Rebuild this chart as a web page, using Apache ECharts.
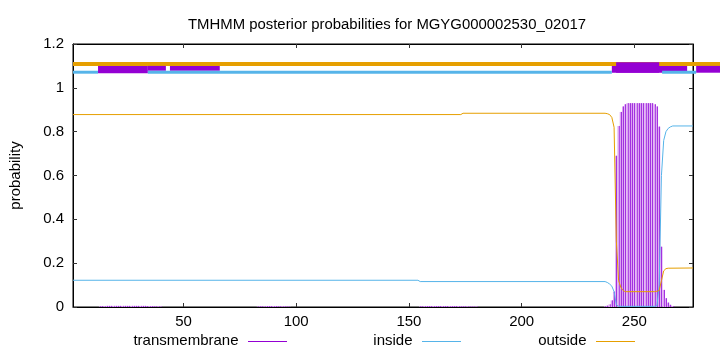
<!DOCTYPE html>
<html><head><meta charset="utf-8">
<script src="https://cdn.jsdelivr.net/npm/echarts@6/dist/echarts.min.js"></script>
<style>html,body{margin:0;padding:0;background:#fff}#c{width:720px;height:352px}</style>
</head><body><div id="c"></div>
<script>
const titleText = 'TMHMM posterior probabilities for MGYG000002530_02017';
const yAxisName = 'probability';
const xTicks = [50, 100, 150, 200, 250];
const seqStart = 1, seqEnd = 276;
const legendNames = ['transmembrane', 'inside', 'outside'];

// outside probability [residue, p]
const outsideProb = [[1,0.878],[173,0.878],[174,0.884],[237,0.884],[238,0.882],[239,0.878],[240,0.865],[241,0.82],[242,0.3],[243,0.12],[244,0.09],[245,0.075],[246,0.07],[259,0.07],[260,0.072],[261,0.075],[262,0.12],[263,0.165],[264,0.175],[265,0.177],[276,0.178]];
// inside probability
const insideProb = [[1,0.122],[154,0.122],[155,0.116],[237,0.116],[238,0.112],[239,0.105],[240,0.095],[241,0.07],[242,0.01],[243,0.003],[259,0.003],[260,0.005],[261,0.1],[262,0.6],[263,0.76],[264,0.8],[265,0.815],[266,0.822],[267,0.826],[276,0.826]];
// transmembrane probability (impulses)
const tmProb = [
 [13,0.003],[14,0.004],[15,0.004],[16,0.005],[17,0.005],[18,0.005],[19,0.005],[20,0.005],[21,0.005],[22,0.005],[23,0.005],[24,0.005],[25,0.005],[26,0.005],[27,0.005],[28,0.005],[29,0.005],[30,0.005],[31,0.005],[32,0.005],[33,0.005],[34,0.004],[35,0.004],[36,0.004],[37,0.003],[38,0.003],[39,0.003],[40,0.002],
 [83,0.002],[84,0.003],[85,0.003],[86,0.003],[87,0.004],[88,0.004],[89,0.004],[90,0.004],[91,0.004],[92,0.003],[93,0.003],[94,0.003],[95,0.003],[96,0.002],[97,0.002],
 [155,0.003],[156,0.003],[157,0.004],[158,0.004],[159,0.004],[160,0.004],[161,0.004],[162,0.004],[163,0.004],[164,0.004],[165,0.004],[166,0.004],[167,0.004],[168,0.004],[169,0.004],[170,0.004],[171,0.004],[172,0.004],[173,0.003],[174,0.003],[175,0.003],[176,0.003],[177,0.002],[178,0.002],[179,0.002],[180,0.002],
 [237,0.003],[238,0.006],[239,0.012],[240,0.03],[241,0.07],[242,0.69],[243,0.826],[244,0.89],[245,0.915],[246,0.925],[247,0.93],[248,0.93],[249,0.93],[250,0.93],[251,0.93],[252,0.93],[253,0.93],[254,0.93],[255,0.93],[256,0.93],[257,0.93],[258,0.93],[259,0.925],[260,0.915],[261,0.823],[262,0.275],[263,0.078],[264,0.04],[265,0.02],[266,0.01],[267,0.004]
];
// top topology bands [xStart, xEnd, yLow, yHigh]
const outsideBand = [[1,288,1.100,1.118]];
const insideBand = [[1,12.1,1.0645,1.078],[34.2,240,1.0645,1.078],[262.3,277.4,1.0645,1.078]];
const tmBand = [[12.1,34.2,1.066,1.100],[34.2,42.2,1.078,1.100],[44.0,66.1,1.078,1.100],[240,273.4,1.069,1.100],[241.9,261,1.069,1.117],[277.4,288,1.069,1.100]];

const C_TM = '#9400d3', C_IN = '#56b4e9', C_OUT = '#e69f00';
const FONT = '"Liberation Sans", Arial, sans-serif';

function bandSeries(data, color, z) {
  return {
    type: 'custom', data: data, clip: false, z: z, silent: true,
    encode: { x: [0, 1], y: [2, 3] },
    renderItem: function (params, api) {
      const p0 = api.coord([api.value(0), api.value(3)]);
      const p1 = api.coord([api.value(1), api.value(2)]);
      return { type: 'rect', shape: { x: p0[0], y: p0[1], width: p1[0] - p0[0], height: p1[1] - p0[1] }, style: { fill: color } };
    }
  };
}

const chart = echarts.init(document.getElementById('c'), null, { renderer: 'canvas' });
const axisCommon = {
  type: 'value', min: seqStart, max: seqEnd,
  axisLine: { show: true, onZero: false, lineStyle: { color: '#000', width: 1 } },
  axisTick: { show: true, inside: true, length: 4, customValues: xTicks, lineStyle: { color: '#333' } },
  splitLine: { show: false }
};
chart.setOption({
  animation: false,
  backgroundColor: '#fff',
  title: { text: titleText, left: 183, top: 12,
    textStyle: { fontFamily: FONT, fontSize: 14.9, fontWeight: 'normal', color: '#000' } },
  grid: { left: 73, right: 27, top: 44, bottom: 45, containLabel: false, outerBoundsMode: 'none',
    show: true, borderColor: '#000', borderWidth: 1 },
  xAxis: [
    Object.assign({}, axisCommon, { position: 'bottom',
      axisLabel: { show: true, customValues: xTicks, margin: 7, fontFamily: FONT, fontSize: 15, color: '#000' } }),
    Object.assign({}, axisCommon, { position: 'top', axisLabel: { show: false } })
  ],
  yAxis: [
    { type: 'value', min: 0, max: 1.2, interval: 0.2, position: 'left',
      name: yAxisName, nameLocation: 'middle', nameGap: 50,
      nameTextStyle: { fontFamily: FONT, fontSize: 15, color: '#000' },
      axisLine: { show: true, onZero: false, lineStyle: { color: '#000' } },
      axisTick: { show: true, inside: true, length: 4, lineStyle: { color: '#333' } },
      axisLabel: { margin: 9, fontFamily: FONT, fontSize: 15, color: '#000',
        formatter: function (v) { return String(Math.round(v * 10) / 10); } },
      splitLine: { show: false } },
    { type: 'value', min: 0, max: 1.2, interval: 0.2, position: 'right',
      axisLine: { show: true, onZero: false, lineStyle: { color: '#000' } },
      axisTick: { show: true, inside: true, length: 4, lineStyle: { color: '#333' } },
      axisLabel: { show: false }, splitLine: { show: false } }
  ],
  series: [
    {
      name: legendNames[0], type: 'custom', data: tmProb, z: 3, silent: true,
      encode: { x: 0, y: 1 },
      renderItem: function (params, api) {
        const x = api.value(0), y = api.value(1);
        const base = api.coord([x, 0]);
        const top = api.coord([x, y]);
        const l = api.coord([x - 0.5, 0]);
        const r = api.coord([x + 0.5, 0]);
        const cx = Math.round(base[0]) + 0.5;
        return { type: 'group', children: [
          { type: 'rect', shape: { x: l[0], y: top[1], width: r[0] - l[0], height: base[1] - top[1] }, style: { fill: '#dca3f2' } },
          { type: 'line', shape: { x1: cx, y1: base[1], x2: cx, y2: top[1] }, style: { stroke: '#a232e0', lineWidth: 1 } }
        ] };
      }
    },
    { name: legendNames[1], type: 'line', data: insideProb, showSymbol: false, z: 4,
      lineStyle: { color: C_IN, width: 1 }, itemStyle: { color: C_IN } },
    { name: legendNames[2], type: 'line', data: outsideProb, showSymbol: false, z: 4,
      lineStyle: { color: C_OUT, width: 1 }, itemStyle: { color: C_OUT } },
    bandSeries(outsideBand, C_OUT, 5),
    bandSeries(tmBand, C_TM, 6),
    bandSeries(insideBand, C_IN, 7)
  ],
  graphic: [
    { type: 'text', x: 238.5, y: 341, style: { text: legendNames[0], textAlign: 'right', textVerticalAlign: 'middle', font: '15px ' + FONT, fill: '#000' } },
    { type: 'line', shape: { x1: 248, y1: 341.5, x2: 287, y2: 341.5 }, style: { stroke: C_TM, lineWidth: 1 } },
    { type: 'text', x: 412.5, y: 341, style: { text: legendNames[1], textAlign: 'right', textVerticalAlign: 'middle', font: '15px ' + FONT, fill: '#000' } },
    { type: 'line', shape: { x1: 422, y1: 341.5, x2: 461, y2: 341.5 }, style: { stroke: C_IN, lineWidth: 1 } },
    { type: 'text', x: 586.5, y: 341, style: { text: legendNames[2], textAlign: 'right', textVerticalAlign: 'middle', font: '15px ' + FONT, fill: '#000' } },
    { type: 'line', shape: { x1: 596, y1: 341.5, x2: 635, y2: 341.5 }, style: { stroke: C_OUT, lineWidth: 1 } }
  ]
});
</script></body></html>
